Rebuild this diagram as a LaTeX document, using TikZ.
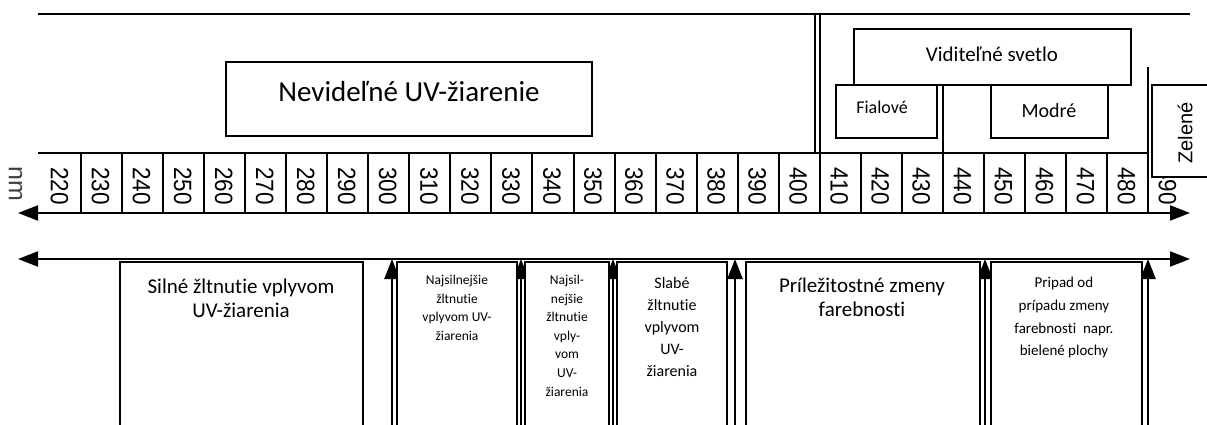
\documentclass[tikz,border=0pt]{standalone}
\usepackage{fontspec}
\setmainfont{Carlito}[Ligatures=NoCommon]
\newfontfamily\numfont{Liberation Sans}
\usetikzlibrary{arrows.meta}

\begin{document}
\begin{tikzpicture}[x=1pt, y=-1pt,
    rule/.style={line width=2pt},
    box/.style={draw, line width=1.4pt, fill=white, inner sep=0pt},
    axis/.style={line width=2pt, {Triangle[length=20pt,width=15pt]}-{Triangle[length=20pt,width=15pt]}},
    uparrow/.style={line width=2.5pt, -{Triangle[length=20pt,width=15pt]}},
    num/.style={font=\numfont\fontsize{25}{25}\selectfont, rotate=-90, inner sep=0pt},
    boxtext/.style={anchor=north, align=center, inner sep=0pt}]
        \useasboundingbox (0,0) rectangle (1207,425);
        \clip (0,0) rectangle (1207,425);
        % top frame
        \draw[rule] (38,14) -- (1190,14);
        \draw[rule] (815,14) -- (815,153);
        \draw[rule] (819.8,14) -- (819.8,153);
        % scale strip
        \draw[rule] (38,153) -- (1148,153);
        \foreach \i in {1,...,27}
            \draw[rule] ({40+41.04*\i},153) -- ({40+41.04*\i},213);
        \draw[rule] (942.9,85) -- (942.9,153);
        \draw[rule] (1148.1,67) -- (1148.1,153);
        \foreach \i in {0,...,27} {
            \pgfmathtruncatemacro\val{220+10*\i}
            \node[num] (n\val) at ({59.5+41.04*\i},186) {\scalebox{0.9}[1]{\val}};
        }
        \node[num, text=black!75] (nm) at (15.5,183.5) {nm};
        \coordinate (axL) at (18,213);
        \coordinate (axR) at (1190,213);
        \draw[axis] (axL) -- (axR);
        % ranges above
        \node[box, minimum width=366, minimum height=74] (uvbox) at (409,99) {};
        \node[anchor=base, font=\fontsize{29}{29}\selectfont] (uvtext) at (409,102) {Nevideľné UV-žiarenie};
        \node[box, minimum width=277, minimum height=56] (visbox) at (992.5,57) {};
        \node[anchor=base, font=\fontsize{21}{21}\selectfont] (vistext) at (992,62) {Viditeľné svetlo};
        \node[box, minimum width=101, minimum height=53] (violet) at (886.5,111.5) {};
        \node[anchor=base, font=\fontsize{18}{18}\selectfont] (violettext) at (882,114) {Fialové};
        \node[box, minimum width=117, minimum height=53] (blue) at (1049.5,111.5) {};
        \node[anchor=base, font=\fontsize{20}{20}\selectfont] (bluetext) at (1049,118) {Modré};
        \node[box, minimum width=70, minimum height=92] (green) at (1187,131) {};
        \node[rotate=90, inner sep=0pt, font=\numfont\fontsize{20}{20}\selectfont] (greentext) at (1185,133) {Zelené};
        % effects below
        \coordinate (lowL) at (18,259);
        \coordinate (lowR) at (1190,259);
        \draw[axis] (lowL) -- (lowR);
        \foreach \x [count=\k] in {392,521,613,735,985,1148} {
            \coordinate (foot\k) at (\x,440);
            \coordinate (tip\k) at (\x,259);
            \draw[uparrow] (foot\k) -- (tip\k);
        }
        \node[box, minimum width=243, minimum height=188] (eff1) at (241.5,356) {};
        \node[box, minimum width=120, minimum height=188] (eff2) at (457,356) {};
        \node[box, minimum width=84, minimum height=188] (eff3) at (567,356) {};
        \node[box, minimum width=110, minimum height=188] (eff4) at (672,356) {};
        \node[box, minimum width=234, minimum height=188] (eff5) at (863,356) {};
        \node[box, minimum width=151, minimum height=188] (eff6) at (1066.5,356) {};
        \node[boxtext, font=\fontsize{21}{23.5}\selectfont] (efftext1) at (241,279) {Silné žltnutie vplyvom\\UV-žiarenia};
        \node[boxtext, font=\fontsize{13.5}{18.5}\selectfont] (efftext2) at (457,275) {Najsilnejšie\\žltnutie\\vplyvom UV-\\žiarenia};
        \node[boxtext, font=\fontsize{13.5}{18.6}\selectfont] (efftext3) at (567,275) {Najsil-\\nejšie\\žltnutie\\vply-\\vom\\UV-\\žiarenia};
        \node[boxtext, font=\fontsize{16}{22}\selectfont] (efftext4) at (672,277) {Slabé\\žltnutie\\vplyvom\\UV-\\žiarenia};
        \node[boxtext, font=\fontsize{21}{24}\selectfont] (efftext5) at (862,278) {Príležitostné zmeny\\farebnosti};
        \node[boxtext, font=\fontsize{15}{22.7}\selectfont] (efftext6) at (1064,277) {Pripad od\\prípadu zmeny\\farebnosti \ napr.\\bielené plochy};
    \end{tikzpicture}
\end{document}
